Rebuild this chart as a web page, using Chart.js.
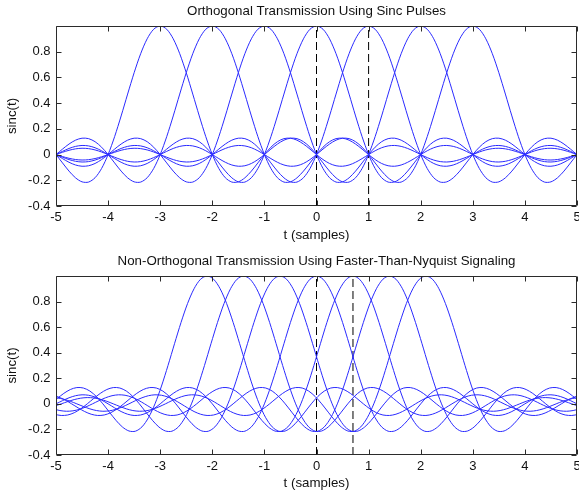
<!DOCTYPE html>
<html>
<head>
<meta charset="utf-8">
<script src="https://cdn.jsdelivr.net/npm/chart.js@4.4.1/dist/chart.umd.min.js"></script>
<style>
  html, body { margin: 0; padding: 0; background: #fff; }
  body { width: 579px; height: 493px; position: relative; overflow: hidden; }
  canvas { position: absolute; left: 0; }
  #c1 { top: 0; }
  #c2 { top: 250px; }
</style>
</head>
<body>
<canvas id="c1" width="579" height="246"></canvas>
<canvas id="c2" width="579" height="243"></canvas>
<script>
// ---- data ----
// pulse shape: offset from pulse centre (samples) and value, right half (pulse is symmetric)
const pulseOffsets = [0,0.125,0.25,0.375,0.5,0.625,0.75,0.875,1,1.125,1.25,1.375,1.5,1.625,1.75,1.875,2,
  2.125,2.25,2.375,2.5,2.625,2.75,2.875,3,3.125,3.25,3.375,3.5,3.625,3.75,3.875,4,
  4.125,4.25,4.375,4.5,4.625,4.75,4.875,5,5.125,5.25,5.375,5.5,5.625,5.75,5.875,6,
  6.125,6.25,6.375,6.5,6.625,6.75,6.875,7,7.125,7.25,7.375,7.5,7.625,7.75,7.875,8];
const pulseValues = [1,0.9745,0.9003,0.7842,0.6366,0.4705,0.3001,0.1392,0,-0.1083,-0.1801,-0.2139,-0.2122,-0.1810,-0.1286,-0.0650,0,
  0.0573,0.1000,0.1238,0.1273,0.1120,0.0818,0.0424,0,-0.0390,-0.0693,-0.0871,-0.0909,-0.0811,-0.0600,-0.0314,0,
  0.0295,0.0530,0.0672,0.0707,0.0636,0.0474,0.0250,0,-0.0238,-0.0429,-0.0547,-0.0579,-0.0523,-0.0391,-0.0207,0,
  0.0199,0.0360,0.0461,0.0490,0.0444,0.0333,0.0177,0,-0.0171,-0.0310,-0.0399,-0.0424,-0.0386,-0.0290,-0.0155,0];
const orthoCenters = [-3,-2,-1,0,1,2,3];
const ftnCenters = [-2.1,-1.4,-0.7,0,0.7,1.4,2.1];
const orthoMarkers = [0,1];
const ftnMarkers = [0,0.7];
const xTickValues = [-5,-4,-3,-2,-1,0,1,2,3,4,5];
const yTickValues = [-0.4,-0.2,0,0.2,0.4,0.6,0.8];
const titles = ['Orthogonal Transmission Using Sinc Pulses','Non-Orthogonal Transmission Using Faster-Than-Nyquist Signaling'];
const xLabel = 't (samples)';
const yLabel = 'sinc(t)';

// ---- build ----
function pulsePoints(c) {
  const pts = [];
  for (let i = pulseOffsets.length - 1; i > 0; i--) pts.push({x: c - pulseOffsets[i], y: pulseValues[i]});
  for (let i = 0; i < pulseOffsets.length; i++) pts.push({x: c + pulseOffsets[i], y: pulseValues[i]});
  return pts;
}
const FONT = "'Liberation Sans', Arial, sans-serif";
const FS = 13;
const FT = 13.3;
const boxPlugin = {
  id: 'boxTicks',
  afterDatasetsDraw(chart) {
    const {ctx, chartArea: a, scales: {x, y}} = chart;
    ctx.save();
    ctx.strokeStyle = '#2b2b2b';
    ctx.lineWidth = 1;
    ctx.beginPath();
    const L = Math.round(a.left) + 0.5, R = Math.round(a.right) - 0.5;
    const T = Math.round(a.top) + 0.5, B = Math.round(a.bottom) - 0.5;
    ctx.rect(L, T, R - L, B - T);
    const tl = 5;
    xTickValues.forEach(v => {
      const px = Math.round(x.getPixelForValue(v)) + 0.5;
      ctx.moveTo(px, B); ctx.lineTo(px, B - tl);
      ctx.moveTo(px, T); ctx.lineTo(px, T + tl);
    });
    yTickValues.forEach(v => {
      const py = Math.round(y.getPixelForValue(v)) + 0.5;
      ctx.moveTo(L, py); ctx.lineTo(L + tl, py);
      ctx.moveTo(R, py); ctx.lineTo(R - tl, py);
    });
    ctx.stroke();
    ctx.restore();
  }
};

function makeChart(id, title, centers, markers, xAxisHeight, xTitlePad) {
  const datasets = centers.map(c => ({
    data: pulsePoints(c),
    borderColor: '#2a2aff',
    borderWidth: 1,
    pointRadius: 0,
    tension: 0.3,
    fill: false
  }));
  markers.forEach(m => datasets.push({
    data: [{x: m, y: -0.4}, {x: m, y: 1}],
    borderColor: '#000',
    borderWidth: 1,
    borderDash: [8, 4],
    pointRadius: 0,
    fill: false
  }));
  return new Chart(document.getElementById(id), {
    type: 'line',
    data: {datasets},
    plugins: [boxPlugin],
    options: {
      responsive: false,
      animation: false,
      devicePixelRatio: 1,
      layout: {padding: {left: 0, right: 2, top: 0, bottom: 0}},
      plugins: {
        legend: {display: false},
        tooltip: {enabled: false},
        title: {
          display: true, text: title, color: '#111', fullSize: false,
          font: {family: FONT, size: FT, weight: 'normal'},
          padding: {top: 3, bottom: 7.0}
        }
      },
      scales: {
        x: {
          type: 'linear', min: -5, max: 5,
          grid: {display: false, drawTicks: false},
          border: {display: false},
          afterBuildTicks: s => { s.ticks = xTickValues.map(v => ({value: v})); },
          afterFit: s => { s.height = xAxisHeight; s.paddingLeft = 0; s.paddingRight = 0; },
          ticks: {color: '#111', font: {family: FONT, size: FS}, padding: 4, maxRotation: 0,
            callback: v => String(v)},
          title: {display: true, text: xLabel, color: '#111', font: {family: FONT, size: FT},
            padding: {top: 0, bottom: xTitlePad}}
        },
        y: {
          type: 'linear', min: -0.4, max: 1,
          grid: {display: false, drawTicks: false},
          border: {display: false},
          afterBuildTicks: s => { s.ticks = yTickValues.map(v => ({value: v})); },
          afterFit: s => { s.width = 56; s.paddingTop = 0; s.paddingBottom = 0; },
          ticks: {color: '#111', font: {family: FONT, size: FS}, padding: 5.5,
            callback: v => String(Math.round(v * 10) / 10)},
          title: {display: true, text: yLabel, color: '#111', font: {family: FONT, size: FT},
            padding: {top: 4.5, bottom: 0}}
        }
      }
    }
  });
}
makeChart('c1', titles[0], orthoCenters, orthoMarkers, 40, 3.0);
makeChart('c2', titles[1], ftnCenters, ftnMarkers, 38, 2.0);
</script>
</body>
</html>
